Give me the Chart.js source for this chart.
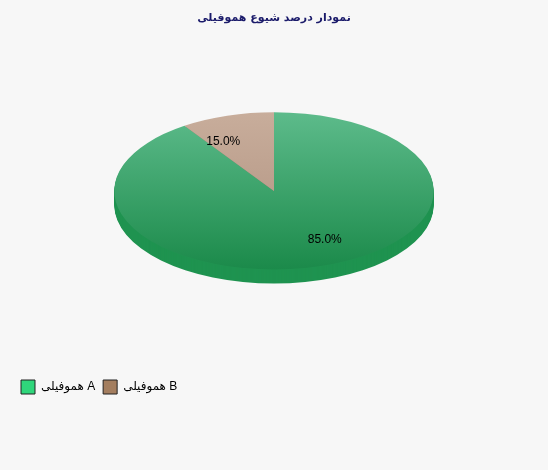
<!DOCTYPE html>
<html>
<head>
<meta charset="utf-8">
<script src="https://cdn.jsdelivr.net/npm/chart.js@4/dist/chart.umd.min.js"></script>
<style>
  html, body { margin: 0; padding: 0; background: #f7f7f7; }
  #wrap { width: 548px; height: 470px; }
</style>
</head>
<body>
<div id="wrap"><canvas id="pieChart"></canvas></div>
<script>
const titleText = 'نمودار درصد شیوع هموفیلی';
const categories = ['هموفیلی A', 'هموفیلی B'];
const shares = [85, 15];

const faceColors = [['#5dbb8b', '#1b8a4a'], ['#c8ad9b', '#ae907e']];
const sideColors = ['#1f9350', '#9c7d6b'];
const legendColors = ['#2fd67b', '#a47e5f'];

const TILT = 0.492;   // vertical squash of the pie
const DEPTH = 14;     // thickness of the rim, px

// slice angles are meant as seen on screen, so undo the squash
function unsquash(t) {
  const p = Math.atan2(Math.sin(t) / TILT, Math.cos(t));
  return p + Math.round((t - p) / (2 * Math.PI)) * 2 * Math.PI;
}

const pie3d = {
  id: 'pie3d',
  afterDatasetsUpdate(chart) {
    chart.getDatasetMeta(0).data.forEach(a => {
      a.$mid = (a.startAngle + a.endAngle) / 2;
      a.startAngle = unsquash(a.startAngle);
      a.endAngle = unsquash(a.endAngle);
      a.circumference = a.endAngle - a.startAngle;
    });
  },
  beforeDatasetsDraw(chart) {
    const ctx = chart.ctx;
    const arcs = chart.getDatasetMeta(0).data;
    ctx.save();
    if (!arcs.length) return;
    const cx = arcs[0].x, cy = arcs[0].y;
    ctx.translate(cx, cy);
    ctx.scale(1, TILT);
    ctx.translate(-cx, -cy);
    // rim: the slices pushed down, drawn under the face
    arcs.forEach((a, i) => {
      ctx.fillStyle = sideColors[i];
      for (let d = DEPTH; d > 0; d--) {
        const oy = a.y + d / TILT;
        ctx.beginPath();
        ctx.moveTo(a.x, oy);
        ctx.arc(a.x, oy, a.outerRadius, a.startAngle, a.endAngle);
        ctx.closePath();
        ctx.fill();
      }
    });
  },
  afterDatasetsDraw(chart) {
    const ctx = chart.ctx;
    ctx.restore();
    const arcs = chart.getDatasetMeta(0).data;
    const total = shares.reduce((s, v) => s + v, 0);
    ctx.save();
    ctx.font = '12px "Liberation Sans", Arial, sans-serif';
    ctx.fillStyle = '#000';
    ctx.textAlign = 'center';
    ctx.textBaseline = 'middle';
    arcs.forEach((a, i) => {
      const r = a.outerRadius * 0.7;
      const x = a.x + Math.cos(a.$mid) * r;
      const y = a.y + Math.sin(a.$mid) * r * TILT;
      ctx.fillText((shares[i] / total * 100).toFixed(1) + '%', x, y);
    });
    ctx.restore();
  }
};

new Chart(document.getElementById('pieChart'), {
  type: 'pie',
  data: {
    labels: categories,
    datasets: [{
      data: shares,
      borderWidth: 0,
      backgroundColor(c) {
        const chart = c.chart, area = chart.chartArea;
        const pair = faceColors[c.dataIndex];
        if (!area) return pair[0];
        const cy = (area.top + area.bottom) / 2;
        const r = Math.min(area.width, area.height) / 2;
        const g = chart.ctx.createLinearGradient(0, cy - r, 0, cy + r);
        g.addColorStop(0, pair[0]);
        g.addColorStop(1, pair[1]);
        return g;
      }
    }]
  },
  options: {
    responsive: true,
    maintainAspectRatio: false,
    animation: false,
    events: [],
    layout: { padding: { left: 13, right: 13, top: 0, bottom: 66 } },
    plugins: {
      title: {
        display: true,
        text: titleText,
        color: '#1a1a6a',
        font: { family: '"DejaVu Sans", sans-serif', size: 11, weight: 'bold' },
        padding: { top: 12, bottom: 6 }
      },
      tooltip: { enabled: false },
      legend: {
        position: 'bottom',
        align: 'start',
        title: { display: true, text: ' ', padding: { top: 0, bottom: 7 }, font: { size: 12 } },
        labels: {
          boxWidth: 14,
          boxHeight: 14,
          padding: 8,
          color: '#000',
          font: { family: '"Liberation Sans", "DejaVu Sans", sans-serif', size: 12 },
          generateLabels: () => categories.map((t, i) => ({
            text: t,
            fillStyle: legendColors[i],
            strokeStyle: '#222',
            fontColor: '#000',
            lineWidth: 1,
            hidden: false,
            index: i,
            datasetIndex: 0
          }))
        }
      }
    }
  },
  plugins: [pie3d]
});
</script>
</body>
</html>
